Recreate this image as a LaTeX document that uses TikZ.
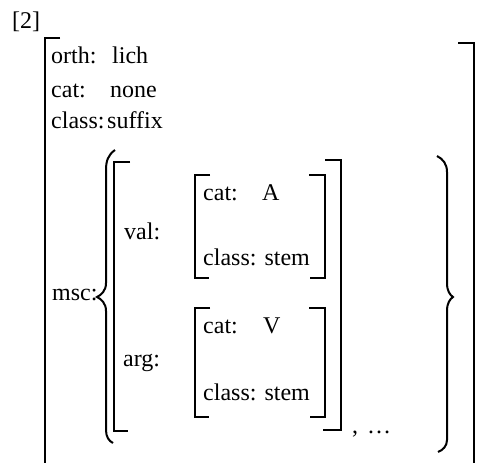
\documentclass[tikz,border=0pt]{standalone}
\usepackage{fontspec}
\setmainfont{Liberation Serif}
\usepackage{tikz}

\begin{document}
\begin{tikzpicture}[x=1pt,y=-1pt,
    brk/.style={line width=2pt},
    fs/.style={anchor=base west,inner sep=0pt,font=\fontsize{24}{28}\selectfont}]
                \useasboundingbox (0,0) rectangle (477,464);
                \node[fs] (num) at (12,28) {[2]};
                \draw[brk] (60,38) -- (45,38) -- (45,463);
                \draw[brk] (458,43) -- (474,43) -- (474,463);
                \node[fs] (orthk) at (51,63) {orth:};
                \node[fs] (orthv) at (112,63) {lich};
                \node[fs] (catk) at (51,97) {cat:};
                \node[fs] (catv) at (110,97) {none};
                \node[fs] (classk) at (51,128) {class:};
                \node[fs] (classv) at (107,128) {suffix};
                \node[fs] (msc) at (52,300) {msc:};
                \draw[brk] (115,150) .. controls (108,155) and (106,161) .. (106,170) -- (106,283)
                    .. controls (106,291) and (101,295) .. (97,297) .. controls (101,299) and (106,303) .. (106,311)
                    -- (106,430) .. controls (106,437) and (109,441) .. (113,443);
                \draw[brk] (437,156) .. controls (443,159) and (447,164) .. (447,172) -- (447,283)
                    .. controls (447,291) and (450,295) .. (453,297) .. controls (450,299) and (447,303) .. (447,311)
                    -- (447,440) .. controls (447,446) and (443,450) .. (438,452);
                \draw[brk] (130,162) -- (114,162) -- (114,431) -- (128,431);
                \draw[brk] (325,160) -- (341,160) -- (341,430) -- (323,430);
                \node[fs] (val) at (124,239) {val:};
                \node[fs] (arg) at (123,366) {arg:};
                \draw[brk] (210,175) -- (195,175) -- (195,278) -- (209,278);
                \draw[brk] (309,175) -- (325,175) -- (325,278) -- (310,278);
                \node[fs] (valcatk) at (203,200) {cat:};
                \node[fs] (valcatv) at (262,200) {A};
                \node[fs] (valclass) at (203,265) {class: stem};
                \draw[brk] (210,308) -- (195,308) -- (195,417) -- (209,417);
                \draw[brk] (309,308) -- (325,308) -- (325,417) -- (310,417);
                \node[fs] (argcatk) at (203,333) {cat:};
                \node[fs] (argcatv) at (263,333) {V};
                \node[fs] (argclass) at (203,400) {class: stem};
                \node[fs] (more) at (352,433) {,\hspace{9pt}\ldots};
            \end{tikzpicture}
\end{document}
